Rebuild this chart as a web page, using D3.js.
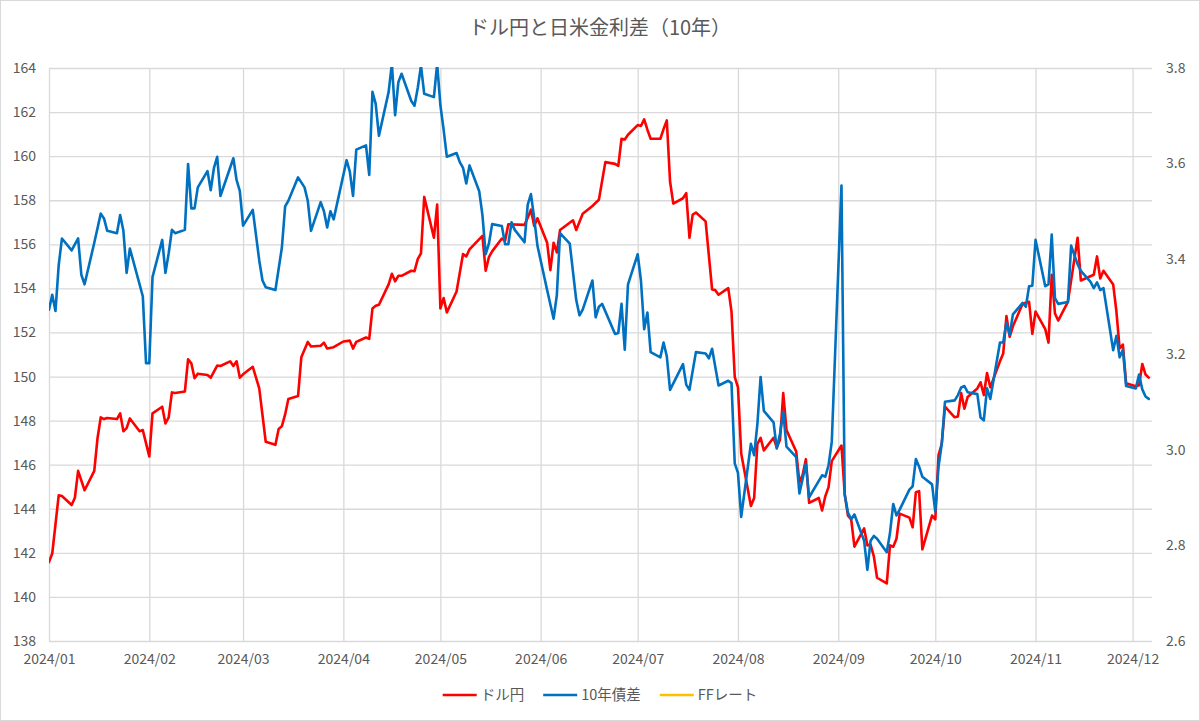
<!DOCTYPE html>
<html>
<head>
<meta charset="utf-8">
<script src="https://cdn.jsdelivr.net/npm/d3@7"></script>
<style>
  body { margin: 0; background: #fff; }
  text { font-family: "Noto Sans CJK JP", "Noto Sans", sans-serif; fill: #595959; }
</style>
</head>
<body>
<svg id="chart"></svg>
<script>
// ドル円 (left axis)
var usdjpyDates = ["2024-01-01","2024-01-02","2024-01-04","2024-01-05","2024-01-08","2024-01-09","2024-01-10","2024-01-12",
  "2024-01-15","2024-01-16","2024-01-17","2024-01-18","2024-01-19","2024-01-22","2024-01-23","2024-01-24","2024-01-25",
  "2024-01-26","2024-01-29","2024-01-30","2024-02-01","2024-02-02","2024-02-05","2024-02-06","2024-02-07","2024-02-08",
  "2024-02-09","2024-02-12","2024-02-13","2024-02-14","2024-02-15","2024-02-16","2024-02-19","2024-02-20","2024-02-22",
  "2024-02-23","2024-02-26","2024-02-27","2024-02-28","2024-02-29","2024-03-01","2024-03-04","2024-03-06","2024-03-08",
  "2024-03-11","2024-03-12","2024-03-13","2024-03-14","2024-03-15","2024-03-18","2024-03-19","2024-03-21","2024-03-22",
  "2024-03-25","2024-03-26","2024-03-27","2024-03-29","2024-04-01","2024-04-03","2024-04-04","2024-04-05","2024-04-08",
  "2024-04-09","2024-04-10","2024-04-11","2024-04-12","2024-04-15","2024-04-16","2024-04-17","2024-04-18","2024-04-19",
  "2024-04-22","2024-04-23","2024-04-24","2024-04-25","2024-04-26","2024-04-29","2024-04-30","2024-05-01","2024-05-02",
  "2024-05-03","2024-05-06","2024-05-07","2024-05-08","2024-05-09","2024-05-10","2024-05-14","2024-05-15","2024-05-16",
  "2024-05-17","2024-05-20","2024-05-21","2024-05-22","2024-05-27","2024-05-28","2024-05-29","2024-05-30","2024-05-31",
  "2024-06-03","2024-06-04","2024-06-05","2024-06-06","2024-06-07","2024-06-11","2024-06-12","2024-06-14","2024-06-17",
  "2024-06-19","2024-06-21","2024-06-24","2024-06-25","2024-06-26","2024-06-27","2024-06-28","2024-07-01","2024-07-02",
  "2024-07-03","2024-07-04","2024-07-05","2024-07-08","2024-07-09","2024-07-10","2024-07-11","2024-07-12","2024-07-15",
  "2024-07-16","2024-07-17","2024-07-18","2024-07-19","2024-07-22","2024-07-24","2024-07-25","2024-07-26","2024-07-29",
  "2024-07-30","2024-07-31","2024-08-01","2024-08-02","2024-08-05","2024-08-06","2024-08-07","2024-08-08","2024-08-09",
  "2024-08-12","2024-08-13","2024-08-14","2024-08-15","2024-08-16","2024-08-19","2024-08-20","2024-08-21","2024-08-22",
  "2024-08-23","2024-08-26","2024-08-27","2024-08-28","2024-08-29","2024-08-30","2024-09-02","2024-09-03","2024-09-04",
  "2024-09-05","2024-09-06","2024-09-09","2024-09-10","2024-09-11","2024-09-12","2024-09-13","2024-09-16","2024-09-17",
  "2024-09-18","2024-09-19","2024-09-20","2024-09-23","2024-09-24","2024-09-25","2024-09-26","2024-09-27","2024-09-30",
  "2024-10-01","2024-10-02","2024-10-03","2024-10-04","2024-10-07","2024-10-08","2024-10-09","2024-10-10","2024-10-11",
  "2024-10-14","2024-10-15","2024-10-16","2024-10-17","2024-10-18","2024-10-21","2024-10-22","2024-10-23","2024-10-24",
  "2024-10-25","2024-10-28","2024-10-29","2024-10-30","2024-10-31","2024-11-01","2024-11-04","2024-11-05","2024-11-06",
  "2024-11-07","2024-11-08","2024-11-11","2024-11-13","2024-11-14","2024-11-15","2024-11-19","2024-11-20","2024-11-21",
  "2024-11-22","2024-11-25","2024-11-26","2024-11-27","2024-11-28","2024-11-29","2024-12-02","2024-12-03","2024-12-04",
  "2024-12-05","2024-12-06"];
var usdjpyValues = [141.58,141.97,144.61,144.58,144.17,144.5,145.72,144.84,
  145.72,147.2,148.15,148.07,148.12,148.07,148.33,147.52,147.66,
  148.1,147.52,147.57,146.37,148.33,148.63,147.87,148.15,149.28,
  149.25,149.32,150.78,150.6,149.92,150.13,150.07,149.95,150.5,
  150.48,150.69,150.48,150.69,149.95,150.1,150.44,149.46,147.04,
  146.9,147.62,147.75,148.28,148.98,149.12,150.87,151.57,151.36,
  151.4,151.54,151.27,151.33,151.59,151.63,151.27,151.57,151.77,
  151.71,153.09,153.21,153.26,154.18,154.66,154.32,154.57,154.57,
  154.8,154.78,155.33,155.59,158.15,156.3,157.8,153.09,153.56,
  152.91,153.86,154.71,155.56,155.45,155.77,156.38,154.8,155.42,
  155.68,156.26,156.16,156.91,156.88,157.21,157.57,156.83,157.18,
  156.07,154.83,156.07,155.63,156.65,157.09,156.65,157.39,157.74,
  158.02,159.73,159.65,159.56,160.79,160.76,160.97,161.41,161.37,
  161.67,161.2,160.79,160.79,161.23,161.62,158.85,157.85,158.09,
  158.32,156.3,157.35,157.44,157.04,153.95,153.92,153.71,154.01,
  152.95,149.99,149.51,146.51,144.13,144.49,146.95,147.22,146.65,
  147.22,146.78,147.13,149.25,147.57,146.6,145.19,145.54,146.25,
  144.27,144.49,143.92,144.57,144.98,146.16,146.87,144.66,143.69,
  143.52,142.28,143.11,142.34,142.37,141.84,140.87,140.61,142.34,
  142.28,142.64,143.78,143.6,143.16,144.75,144.8,142.16,143.69,
  143.52,146.43,146.95,148.63,148.15,148.19,149.25,148.54,149.07,
  149.46,149.74,149.16,150.16,149.51,150.69,151.04,152.74,151.8,
  152.28,153.3,153.35,153.39,151.94,152.95,152.15,151.54,154.62,
  152.86,152.54,153.39,155.33,156.3,154.36,154.62,155.45,154.45,
  154.8,154.18,152.95,151.27,151.45,149.69,149.56,149.6,150.57,
  150.09,149.95];

// 10年債差 (right axis)
var spreadDates = ["2024-01-01","2024-01-02","2024-01-03","2024-01-04","2024-01-05","2024-01-08","2024-01-10","2024-01-11",
  "2024-01-12","2024-01-15","2024-01-17","2024-01-18","2024-01-19","2024-01-22","2024-01-23","2024-01-24","2024-01-25",
  "2024-01-26","2024-01-30","2024-01-31","2024-02-01","2024-02-02","2024-02-05","2024-02-06","2024-02-07","2024-02-08",
  "2024-02-09","2024-02-12","2024-02-13","2024-02-14","2024-02-15","2024-02-16","2024-02-19","2024-02-20","2024-02-21",
  "2024-02-22","2024-02-23","2024-02-27","2024-02-28","2024-02-29","2024-03-01","2024-03-04","2024-03-06","2024-03-07",
  "2024-03-08","2024-03-11","2024-03-13","2024-03-14","2024-03-15","2024-03-18","2024-03-20","2024-03-21","2024-03-22",
  "2024-03-25","2024-03-26","2024-03-27","2024-03-28","2024-03-29","2024-04-02","2024-04-03","2024-04-04","2024-04-05",
  "2024-04-08","2024-04-09","2024-04-10","2024-04-11","2024-04-12","2024-04-15","2024-04-16","2024-04-17","2024-04-18",
  "2024-04-19","2024-04-22","2024-04-23","2024-04-24","2024-04-25","2024-04-26","2024-04-29","2024-04-30","2024-05-01",
  "2024-05-02","2024-05-03","2024-05-06","2024-05-07","2024-05-08","2024-05-09","2024-05-10","2024-05-13","2024-05-14",
  "2024-05-15","2024-05-16","2024-05-17","2024-05-20","2024-05-21","2024-05-22","2024-05-23","2024-05-24","2024-05-27",
  "2024-05-28","2024-05-29","2024-05-30","2024-05-31","2024-06-03","2024-06-05","2024-06-06","2024-06-07","2024-06-10",
  "2024-06-12","2024-06-13","2024-06-14","2024-06-17","2024-06-18","2024-06-19","2024-06-20","2024-06-24","2024-06-25",
  "2024-06-26","2024-06-27","2024-06-28","2024-07-01","2024-07-02","2024-07-03","2024-07-04","2024-07-05","2024-07-08",
  "2024-07-09","2024-07-10","2024-07-11","2024-07-15","2024-07-16","2024-07-17","2024-07-19","2024-07-22","2024-07-23",
  "2024-07-24","2024-07-26","2024-07-29","2024-07-30","2024-07-31","2024-08-01","2024-08-02","2024-08-05","2024-08-06",
  "2024-08-07","2024-08-08","2024-08-09","2024-08-12","2024-08-13","2024-08-14","2024-08-15","2024-08-16","2024-08-19",
  "2024-08-20","2024-08-21","2024-08-22","2024-08-23","2024-08-27","2024-08-28","2024-08-29","2024-08-30","2024-09-02",
  "2024-09-03","2024-09-04","2024-09-05","2024-09-06","2024-09-09","2024-09-10","2024-09-11","2024-09-12","2024-09-13",
  "2024-09-16","2024-09-17","2024-09-18","2024-09-19","2024-09-20","2024-09-23","2024-09-24","2024-09-25","2024-09-26",
  "2024-09-27","2024-09-30","2024-10-01","2024-10-02","2024-10-03","2024-10-04","2024-10-07","2024-10-08","2024-10-09",
  "2024-10-10","2024-10-11","2024-10-14","2024-10-15","2024-10-16","2024-10-17","2024-10-18","2024-10-21","2024-10-22",
  "2024-10-23","2024-10-24","2024-10-25","2024-10-28","2024-10-29","2024-10-30","2024-10-31","2024-11-01","2024-11-04",
  "2024-11-05","2024-11-06","2024-11-07","2024-11-08","2024-11-11","2024-11-12","2024-11-13","2024-11-14","2024-11-15",
  "2024-11-18","2024-11-19","2024-11-20","2024-11-21","2024-11-22","2024-11-25","2024-11-26","2024-11-27","2024-11-28",
  "2024-11-29","2024-12-02","2024-12-03","2024-12-04","2024-12-05","2024-12-06"];
var spreadValues = [3.294,3.325,3.291,3.387,3.443,3.418,3.443,3.367,
  3.347,3.434,3.495,3.485,3.459,3.454,3.492,3.459,3.371,
  3.422,3.322,3.182,3.182,3.362,3.440,3.371,3.412,3.461,
  3.454,3.461,3.599,3.506,3.506,3.550,3.584,3.544,3.591,
  3.614,3.532,3.611,3.565,3.542,3.470,3.503,3.397,3.355,
  3.341,3.335,3.424,3.510,3.522,3.571,3.550,3.522,3.459,
  3.519,3.500,3.466,3.500,3.483,3.607,3.583,3.532,3.629,
  3.638,3.576,3.750,3.725,3.658,3.750,3.809,3.701,3.770,
  3.788,3.731,3.721,3.758,3.805,3.746,3.739,3.809,3.722,
  3.671,3.614,3.622,3.603,3.591,3.558,3.596,3.542,3.492,
  3.410,3.432,3.473,3.469,3.431,3.431,3.477,3.461,3.435,
  3.514,3.536,3.485,3.428,3.335,3.275,3.324,3.454,3.432,
  3.314,3.282,3.294,3.355,3.278,3.300,3.306,3.243,3.245,
  3.306,3.210,3.347,3.410,3.355,3.253,3.288,3.205,3.194,
  3.225,3.196,3.126,3.180,3.137,3.126,3.205,3.202,3.192,
  3.212,3.135,3.145,3.140,2.972,2.952,2.860,3.013,2.989,
  3.054,3.153,3.082,3.058,3.003,3.034,3.080,3.007,2.985,
  2.909,2.940,2.971,2.901,2.947,2.944,2.968,3.017,3.554,
  2.907,2.869,2.855,2.865,2.810,2.749,2.810,2.820,2.814,
  2.786,2.826,2.887,2.863,2.875,2.917,2.924,2.981,2.965,
  2.944,2.928,2.871,2.965,3.013,3.101,3.104,3.115,3.131,
  3.134,3.121,3.117,3.068,3.062,3.129,3.107,3.225,3.225,
  3.267,3.241,3.284,3.308,3.300,3.343,3.344,3.440,3.343,
  3.347,3.451,3.318,3.306,3.310,3.428,3.408,3.389,3.375,
  3.352,3.339,3.351,3.335,3.339,3.209,3.239,3.194,3.210,
  3.134,3.129,3.158,3.127,3.112,3.107];

// FFレート: shown in the legend only, no points drawn
var ffDates = [];
var ffValues = [];

var seriesNames = ["ドル円", "10年債差", "FFレート"];
var seriesColors = ["#ff0000", "#0070c0", "#ffc000"];
var leftTicks = [138, 140, 142, 144, 146, 148, 150, 152, 154, 156, 158, 160, 162, 164];
var rightTicks = [2.6, 2.8, 3.0, 3.2, 3.4, 3.6, 3.8];
var monthTicks = ["2024-01-01", "2024-02-01", "2024-03-01", "2024-04-01", "2024-05-01", "2024-06-01",
  "2024-07-01", "2024-08-01", "2024-09-01", "2024-10-01", "2024-11-01", "2024-12-01"];
var xDomain = ["2024-01-01", "2024-12-07"];

var W = 1200, H = 721;
var plotLeft = 49, plotRight = 1152, plotTop = 68, plotBottom = 641;
var parse = d3.timeParse("%Y-%m-%d");

var svg = d3.select("#chart").attr("width", W).attr("height", H);

svg.append("rect")
  .attr("x", 0.5).attr("y", 0.5).attr("width", W - 1).attr("height", H - 1)
  .attr("fill", "#fff").attr("stroke", "#d9d9d9");

var x = d3.scaleTime().domain(xDomain.map(parse)).range([plotLeft, plotRight]);
var yL = d3.scaleLinear().domain([138, 164]).range([plotBottom, plotTop]);
var yR = d3.scaleLinear().domain([2.6, 3.8]).range([plotBottom, plotTop]);

// gridlines
svg.append("g")
  .attr("class", "grid")
  .attr("transform", "translate(" + plotLeft + ",0)")
  .call(d3.axisLeft(yL).tickValues(leftTicks).tickSize(-(plotRight - plotLeft)).tickFormat(""))
  .call(function(g) { g.select(".domain").remove(); });

svg.append("g")
  .attr("class", "grid")
  .attr("transform", "translate(0," + plotBottom + ")")
  .call(d3.axisBottom(x).tickValues(monthTicks.map(parse)).tickSize(-(plotBottom - plotTop)).tickFormat(""))
  .call(function(g) { g.select(".domain").remove(); });

svg.selectAll(".grid line").attr("stroke", "#d9d9d9").attr("stroke-width", 1.3);

// axis labels
var axL = svg.append("g")
  .attr("transform", "translate(" + plotLeft + ",0)")
  .call(d3.axisLeft(yL).tickValues(leftTicks).tickSize(0).tickPadding(13).tickFormat(d3.format("d")));
var axR = svg.append("g")
  .attr("transform", "translate(" + plotRight + ",0)")
  .call(d3.axisRight(yR).tickValues(rightTicks).tickSize(0).tickPadding(14).tickFormat(d3.format(".1f")));
var axB = svg.append("g")
  .attr("transform", "translate(0," + plotBottom + ")")
  .call(d3.axisBottom(x).tickValues(monthTicks.map(parse)).tickSize(0).tickPadding(13).tickFormat(d3.timeFormat("%Y/%m")));

[axL, axR, axB].forEach(function(a) {
  a.select(".domain").remove();
  a.selectAll("text").attr("font-size", 14).attr("font-family", null).attr("fill", "#595959");
});

// lines
svg.append("clipPath").attr("id", "plot-clip")
  .append("rect").attr("x", plotLeft).attr("y", plotTop - 1)
  .attr("width", plotRight - plotLeft).attr("height", plotBottom - plotTop + 1);

var plot = svg.append("g").attr("clip-path", "url(#plot-clip)");

function drawLine(dates, values, yScale, color) {
  var pts = d3.zip(dates.map(parse), values);
  plot.append("path")
    .datum(pts)
    .attr("fill", "none")
    .attr("stroke", color)
    .attr("stroke-width", 2.6)
    .attr("stroke-linejoin", "round")
    .attr("stroke-linecap", "round")
    .attr("d", d3.line()
      .x(function(d) { return x(d[0]); })
      .y(function(d) { return yScale(d[1]); }));
}

drawLine(usdjpyDates, usdjpyValues, yL, seriesColors[0]);
drawLine(spreadDates, spreadValues, yR, seriesColors[1]);
drawLine(ffDates, ffValues, yR, seriesColors[2]);

// title
svg.append("text")
  .attr("x", 600).attr("y", 35)
  .attr("text-anchor", "middle")
  .attr("font-size", 20)
  .text("ドル円と日米金利差（10年）");

// legend
var legend = svg.append("g").attr("transform", "translate(0,695)");
var items = legend.selectAll("g").data(seriesNames).enter().append("g");
items.append("line")
  .attr("x1", 0).attr("x2", 34).attr("y1", 0).attr("y2", 0)
  .attr("stroke", function(d, i) { return seriesColors[i]; })
  .attr("stroke-width", 2.6);
items.append("text")
  .attr("x", 38).attr("y", 0).attr("dy", "0.35em")
  .attr("font-size", 14.5)
  .text(function(d) { return d; });

var pos = 0, offsets = [];
items.each(function() {
  offsets.push(pos);
  pos += 38 + this.querySelector("text").getComputedTextLength() + 19;
});
var start = 600 - (pos - 19) / 2;
items.attr("transform", function(d, i) { return "translate(" + (start + offsets[i]) + ",0)"; });
</script>
</body>
</html>
